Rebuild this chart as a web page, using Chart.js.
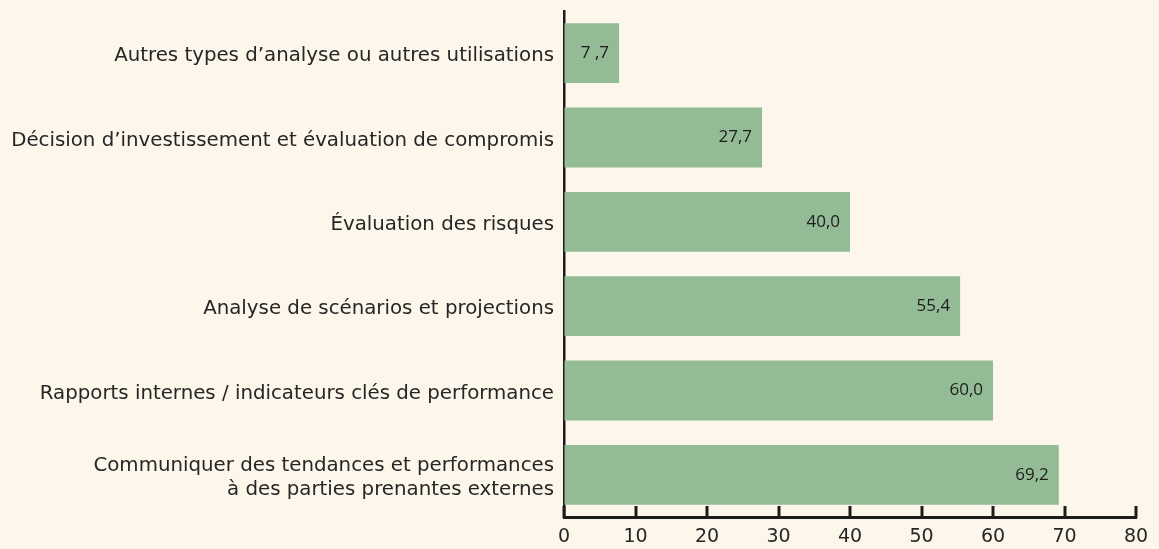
<!DOCTYPE html>
<html>
<head>
<meta charset="utf-8">
<script src="https://cdn.jsdelivr.net/npm/chart.js@4.4.1/dist/chart.umd.min.js"></script>
<style>
  html, body { margin: 0; padding: 0; background: #fdf6ea; }
  #wrap { width: 1159px; height: 549px; }
</style>
</head>
<body>
<div id="wrap"><canvas id="usesChart" width="1159" height="549"></canvas></div>
<script>
(function() {
    'use strict';

    const categories = [
        'Autres types d\u2019analyse ou autres utilisations',
        'D\u00e9cision d\u2019investissement et \u00e9valuation de compromis',
        '\u00c9valuation des risques',
        'Analyse de sc\u00e9narios et projections',
        'Rapports internes / indicateurs cl\u00e9s de performance',
        ['Communiquer des tendances et performances', '\u00e0 des parties prenantes externes']
    ];
    const values = [7.7, 27.7, 40.0, 55.4, 60.0, 69.2];
    const valueLabels = ['7 ,7', '27,7', '40,0', '55,4', '60,0', '69,2'];
    const xTicks = [0, 10, 20, 30, 40, 50, 60, 70, 80];

    const labelFont = '"DejaVu Sans", sans-serif';
    const valueFont = '"Open Sans", sans-serif';
    const ink = '#1c1c1c';

    // tick marks on the x axis point up into the plot
    const innerTicks = {
        id: 'innerTicks',
        afterDraw: function(chart) {
            const ctx = chart.ctx;
            const x = chart.scales.x;
            const y0 = chart.chartArea.bottom;
            ctx.save();
            ctx.strokeStyle = ink;
            ctx.lineWidth = 3;
            xTicks.forEach(function(v) {
                const px = Math.round(x.getPixelForValue(v));
                ctx.beginPath();
                ctx.moveTo(px, y0 + 1);
                ctx.lineTo(px, y0 - 11);
                ctx.stroke();
            });
            ctx.restore();
        }
    };

    const barValues = {
        id: 'barValues',
        afterDatasetsDraw: function(chart) {
            const ctx = chart.ctx;
            const meta = chart.getDatasetMeta(0);
            ctx.save();
            ctx.fillStyle = ink;
            ctx.font = '17px ' + valueFont;
            ctx.textBaseline = 'middle';
            meta.data.forEach(function(bar, i) {
                const txt = valueLabels[i];
                const w = ctx.measureText(txt).width;
                const barLen = bar.x - bar.base;
                let tx;
                if (barLen < w + 24) {
                    ctx.textAlign = 'center';
                    tx = (bar.x + bar.base) / 2 + 2;
                } else {
                    ctx.textAlign = 'right';
                    tx = bar.x - 10;
                }
                ctx.fillText(txt, tx, bar.y);
            });
            ctx.restore();
        }
    };

    new Chart(document.getElementById('usesChart'), {
        type: 'bar',
        data: {
            labels: categories,
            datasets: [{
                data: values,
                backgroundColor: '#93bb95',
                borderWidth: 0,
                barPercentage: 0.71,
                categoryPercentage: 1.0
            }]
        },
        options: {
            indexAxis: 'y',
            responsive: false,
            animation: false,
            layout: { padding: { top: 11, right: 23, left: 0, bottom: 0 } },
            plugins: {
                legend: { display: false },
                tooltip: { enabled: false }
            },
            scales: {
                x: {
                    min: 0,
                    max: 80,
                    afterBuildTicks: function(scale) {
                        scale.ticks = xTicks.map(function(v) { return { value: v }; });
                    },
                    afterFit: function(scale) {
                        scale.height = 32;
                        scale.paddingLeft = 0;
                        scale.paddingRight = 0;
                    },
                    grid: { display: true, drawOnChartArea: false, drawTicks: false },
                    border: { display: true, color: ink, width: 3 },
                    ticks: {
                        color: '#262626',
                        padding: 9,
                        font: { family: labelFont, size: 19 }
                    }
                },
                y: {
                    afterFit: function(scale) {
                        scale.width = 564;
                        scale.paddingTop = 0;
                        scale.paddingBottom = 0;
                    },
                    grid: { display: false, drawTicks: false },
                    border: { display: true, color: ink, width: 2.5 },
                    ticks: {
                        color: '#262626',
                        padding: 10,
                        labelOffset: 3,
                        font: { family: labelFont, size: 19.8 }
                    }
                }
            }
        },
        plugins: [innerTicks, barValues]
    });
})();
</script>
</body>
</html>
